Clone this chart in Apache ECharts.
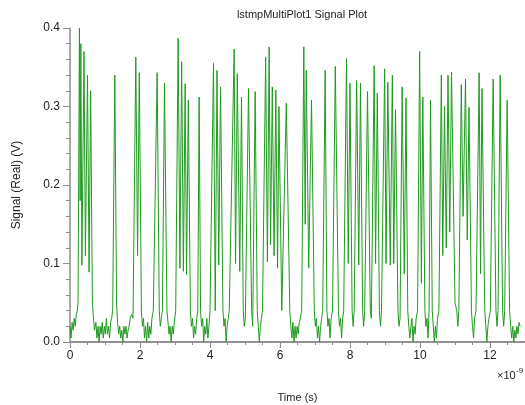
<!DOCTYPE html>
<html>
<head>
<meta charset="utf-8">
<script src="https://cdn.jsdelivr.net/npm/echarts@6/dist/echarts.min.js"></script>
<style>html,body{margin:0;padding:0;background:#fff}#c{width:525px;height:405px}</style>
</head>
<body>
<div id="c"></div>
<script>
// Time in nanoseconds (axis shows x10^-9 s)
var time_ns = [
0.00,0.03,0.06,0.09,0.12,0.15,0.18,0.21,
0.23,0.27,0.29,0.31,0.34,0.40,0.44,0.50,0.545,0.59,0.64,0.67,
0.70,0.74,0.77,0.80,0.83,0.86,0.89,0.92,0.95,0.98,1.01,1.04,1.07,1.10,1.13,1.16,1.19,1.22,
1.28,1.33,
1.36,1.39,1.42,1.45,1.48,1.51,1.54,1.57,1.60,1.63,1.66,1.69,1.72,1.76,1.80,
1.88,1.93,1.98,2.04,
2.07,2.10,2.13,2.16,2.19,2.22,2.25,2.28,2.31,2.34,2.38,
2.49,2.55,2.58,2.61,2.64,2.70,2.77,
2.80,2.83,2.86,2.89,2.92,2.95,2.98,3.02,
3.09,3.14,3.19,3.24,3.29,3.33,3.38,3.44,
3.47,3.50,3.53,3.56,3.59,3.62,3.65,
3.69,3.73,
3.76,3.79,3.82,3.85,3.88,3.91,3.94,3.97,4.00,
4.10,4.15,4.20,4.25,4.30,4.37,
4.40,4.43,4.46,4.49,4.52,4.55,
4.69,4.73,4.78,4.85,4.90,4.95,
4.98,5.01,
5.10,5.19,5.22,
5.29,5.35,
5.38,5.41,5.44,5.47,5.50,
5.59,5.64,5.69,5.73,5.78,5.83,5.88,5.93,5.97,6.05,6.10,
6.18,6.28,
6.31,6.34,6.37,6.40,6.43,6.46,6.49,6.52,6.55,6.58,6.62,
6.68,6.72,6.75,6.82,6.90,6.98,
7.01,7.04,7.07,7.10,7.13,7.16,7.19,7.22,
7.29,7.34,
7.37,7.40,7.43,7.46,7.50,
7.58,7.67,
7.70,7.73,7.76,7.79,7.82,
7.90,7.95,8.00,8.06,
8.09,8.12,
8.19,8.25,8.30,8.36,
8.39,8.42,
8.50,8.58,8.61,
8.69,8.73,8.78,8.84,8.87,8.90,
8.99,9.03,9.08,9.15,9.21,9.25,9.30,9.37,
9.40,9.43,
9.49,9.55,9.60,9.65,
9.68,9.71,9.74,9.77,9.80,9.83,9.86,9.89,9.93,
9.99,10.04,10.08,10.14,
10.17,10.20,10.23,10.26,
10.30,10.35,
10.38,10.41,10.44,10.47,10.50,10.54,
10.61,10.65,10.70,10.75,10.80,10.85,10.90,11.00,11.05,
11.08,11.11,
11.18,11.23,11.30,11.35,11.40,11.47,
11.50,11.53,11.56,11.60,
11.69,11.73,11.77,11.85,
11.88,11.91,11.94,11.97,12.01,
12.09,12.17,12.20,12.23,
12.29,12.36,12.39,12.42,
12.49,12.56,
12.59,12.62,12.65,12.68,12.71,12.74,12.77,12.80,12.83,12.86
];
var signal_V = [
0.020,0.005,0.025,0.015,0.030,0.020,0.035,0.040,
0.050,0.400,0.180,0.380,0.098,0.370,0.110,0.340,0.089,0.320,0.050,0.030,
0.015,0.025,0.005,0.020,0.000,0.020,0.010,0.025,0.005,0.020,0.010,0.030,0.010,0.020,0.005,0.025,0.030,0.040,
0.340,0.050,
0.025,0.010,0.020,0.005,0.015,0.000,0.020,0.010,0.020,0.005,0.015,0.020,0.030,0.035,0.030,
0.363,0.110,0.343,0.040,
0.020,0.030,0.005,0.020,0.000,0.025,0.005,0.020,0.010,0.030,0.040,
0.343,0.040,0.020,0.030,0.040,0.330,0.040,
0.025,0.010,0.020,0.000,0.020,0.010,0.025,0.040,
0.387,0.094,0.357,0.090,0.329,0.086,0.308,0.040,
0.020,0.030,0.005,0.020,0.010,0.030,0.040,
0.312,0.040,
0.020,0.030,0.000,0.020,0.010,0.030,0.005,0.020,0.040,
0.355,0.040,0.346,0.098,0.325,0.040,
0.020,0.030,0.000,0.020,0.030,0.040,
0.373,0.100,0.342,0.090,0.312,0.040,
0.020,0.030,
0.323,0.040,0.020,
0.319,0.040,
0.020,0.000,0.020,0.030,0.040,
0.363,0.102,0.376,0.124,0.325,0.110,0.321,0.094,0.300,0.040,0.040,
0.304,0.040,
0.020,0.005,0.025,0.000,0.020,0.005,0.020,0.010,0.025,0.030,0.040,
0.376,0.150,0.346,0.094,0.308,0.040,
0.020,0.030,0.005,0.020,0.000,0.020,0.030,0.040,
0.346,0.040,
0.020,0.030,0.005,0.030,0.040,
0.351,0.040,
0.020,0.030,0.005,0.030,0.040,
0.361,0.100,0.330,0.040,
0.020,0.040,
0.333,0.098,0.330,0.040,
0.020,0.040,
0.319,0.040,0.030,
0.352,0.100,0.317,0.040,0.020,0.040,
0.348,0.100,0.331,0.098,0.340,0.100,0.296,0.040,
0.020,0.030,
0.325,0.087,0.311,0.040,
0.020,0.005,0.020,0.030,0.000,0.020,0.010,0.030,0.040,
0.370,0.075,0.312,0.040,
0.020,0.030,0.005,0.040,
0.308,0.040,
0.020,0.000,0.020,0.005,0.030,0.040,
0.340,0.110,0.300,0.120,0.340,0.140,0.344,0.050,0.040,
0.020,0.040,
0.328,0.160,0.335,0.130,0.299,0.040,
0.020,0.005,0.030,0.040,
0.343,0.087,0.323,0.040,
0.020,0.000,0.020,0.030,0.040,
0.335,0.040,0.020,0.040,
0.340,0.040,0.020,0.040,
0.308,0.040,
0.020,0.005,0.020,0.000,0.015,0.005,0.020,0.010,0.025,0.020
];
var xTickLabels = ['0','2','4','6','8','10','12'];
var yTickLabels = ['0.0','0.1','0.2','0.3','0.4'];

var points = time_ns.map(function(t, i){ return [t, signal_V[i]]; });
var FONT = 'Liberation Sans, Arial, sans-serif';
var chart = echarts.init(document.getElementById('c'), null, {renderer:'canvas'});
chart.setOption({
  animation: false,
  backgroundColor: '#fff',
  title: {
    text: 'lstmpMultiPlot1 Signal Plot',
    left: 297, top: 4, textAlign: 'center',
    textStyle: {fontFamily: FONT, fontSize: 11, fontWeight: 'normal', color: '#222'}
  },
  grid: {left: 70, right: 0, top: 28, bottom: 63, containLabel: false, outerBoundsMode: 'none'},
  xAxis: [{
    type: 'value', min: 0, max: 13, interval: 2,
    name: 'Time (s)', nameLocation: 'middle', nameGap: 50,
    nameTextStyle: {fontFamily: FONT, fontSize: 11, color: '#222'},
    axisLine: {show: true, onZero: false, lineStyle: {color: '#8c8c8c', width: 1.5}},
    axisTick: {show: true, length: 6, lineStyle: {color: '#8c8c8c', width: 1}},
    minorTick: {show: true, splitNumber: 4, length: 3, lineStyle: {color: '#8c8c8c', width: 1}},
    axisLabel: {fontFamily: FONT, fontSize: 12, color: '#222', margin: 8, showMaxLabel: false,
      formatter: function(v){ var i = Math.round(v/2); return (v % 2 === 0 && i < xTickLabels.length) ? xTickLabels[i] : ''; }},
    splitLine: {show: false}
  }, {
    type: 'value', min: 0, max: 13, position: 'top',
    axisLine: {show: true, lineStyle: {color: '#8c8c8c', width: 1.5}},
    axisTick: {show: false}, axisLabel: {show: false}, splitLine: {show: false}
  }],
  yAxis: {
    type: 'value', min: 0, max: 0.4, interval: 0.1,
    name: 'Signal (Real) (V)', nameLocation: 'middle', nameGap: 47, nameRotate: 90,
    nameTextStyle: {fontFamily: FONT, fontSize: 12, color: '#222'},
    axisLine: {show: true, lineStyle: {color: '#8c8c8c', width: 1.5}},
    axisTick: {show: true, length: 7, lineStyle: {color: '#8c8c8c', width: 1}},
    minorTick: {show: true, splitNumber: 5, length: 4, lineStyle: {color: '#8c8c8c', width: 1}},
    axisLabel: {fontFamily: FONT, fontSize: 12, color: '#222', margin: 10,
      formatter: function(v){ var i = Math.round(v*10); return yTickLabels[i] || ''; }},
    splitLine: {show: false}
  },
  graphic: [{
    type: 'text', left: 497, top: 370,
    style: {text: '×10', font: '11px ' + FONT, fill: '#222'}
  }, {
    type: 'text', left: 516, top: 367,
    style: {text: '-9', font: '8px ' + FONT, fill: '#222'}
  }],
  series: [{
    type: 'line', xAxisIndex: 0, data: points, showSymbol: false, symbol: 'none',
    lineStyle: {color: '#1f9a1f', width: 1}, clip: true
  }]
});
</script>
</body>
</html>
